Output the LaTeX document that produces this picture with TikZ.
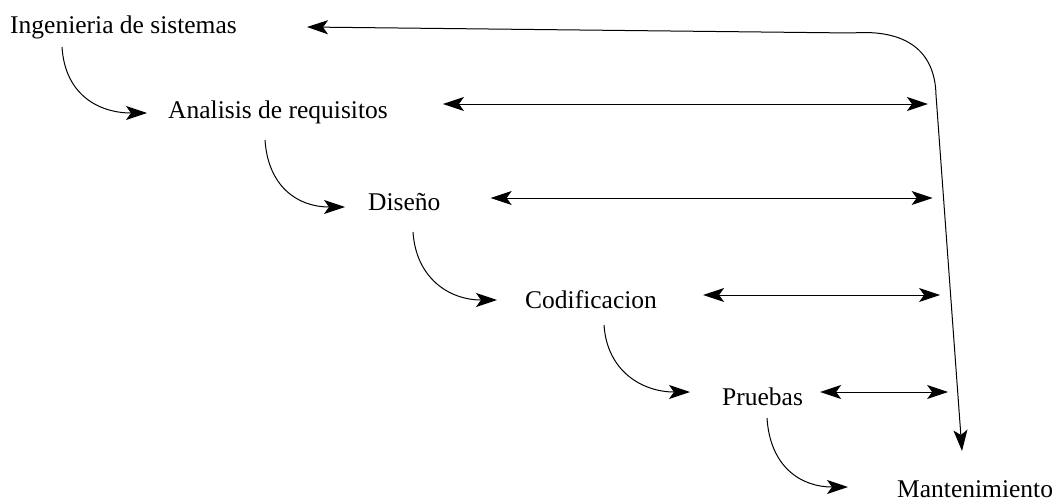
\documentclass[tikz,border=0pt]{standalone}
\usepackage{fontspec}
\setmainfont{Liberation Serif}
\usetikzlibrary{arrows.meta}
\begin{document}
\begin{tikzpicture}[x=1pt,y=-1pt,
  >={Stealth[length=21pt,width=14pt,inset=5pt]},
  stage/.style={anchor=base west,inner sep=0pt,font=\fontsize{25.5}{30}\selectfont},
  flow/.style={->,line width=1pt},
  link/.style={<->,line width=1pt}]
\useasboundingbox (0,0) rectangle (1063,503);

% stages of the waterfall
\node[stage] (ing) at (10,34)   {Ingenieria de sistemas};
\node[stage] (ana) at (168,118) {Analisis de requisitos};
\node[stage] (dis) at (368,210) {Diseño};
\node[stage] (cod) at (525,308) {Codificacion};
\node[stage] (pru) at (722,405) {Pruebas};
\node[stage] (man) at (897,497) {Mantenimiento};

% cascading arrows from one stage to the next
\draw[flow] ([shift={(52,13)}]ing.base west)  .. controls +(3,48) and +(-48,0) .. ([shift={(-21,-5)}]ana.base west);
\draw[flow] ([shift={(97,22)}]ana.base west)  .. controls +(3,46) and +(-48,0) .. ([shift={(-23,-3)}]dis.base west);
\draw[flow] ([shift={(45,22)}]dis.base west)  .. controls +(3,46) and +(-48,0) .. ([shift={(-28,-8)}]cod.base west);
\draw[flow] ([shift={(79,17)}]cod.base west)  .. controls +(3,46) and +(-48,0) .. ([shift={(-32,-13)}]pru.base west);
\draw[flow] ([shift={(45,13)}]pru.base west)  .. controls +(3,48) and +(-48,0) .. ([shift={(-49,-10)}]man.base west);

% feedback between each stage and maintenance
\draw[link] ([shift={(55,-14)}]ana.base east) -- ++(485,0);
\draw[link] ([shift={(50,-12)}]dis.base east) -- ++(442,0);
\draw[link] ([shift={(46,-13)}]cod.base east) -- ++(237,0);
\draw[link] ([shift={(17,-13)}]pru.base east) -- ++(128,0);

% return path from maintenance back to systems engineering
\draw[link] ([shift={(70,-7)}]ing.base east) -- (852,33)
  .. controls (905,29) and (935,50) .. (936,95)
  -- ([shift={(65,-46)}]man.base west);
\end{tikzpicture}
\end{document}
